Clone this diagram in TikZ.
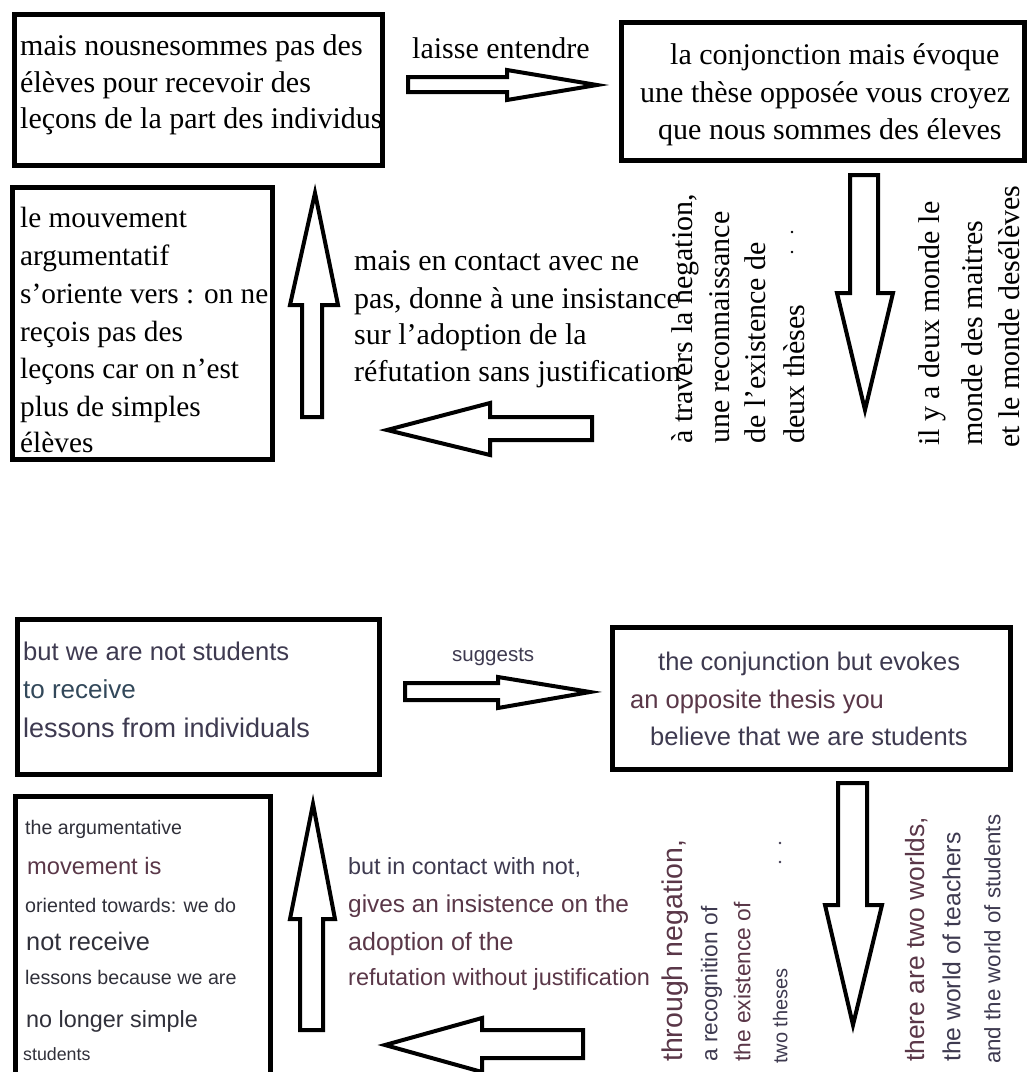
\documentclass[tikz,border=0pt]{standalone}
\usepackage{fontspec}
\setmainfont{Liberation Serif}
\newfontfamily\sansen{Liberation Sans}
\definecolor{ca}{RGB}{62,58,80}
\definecolor{cb}{RGB}{90,55,72}
\definecolor{cc}{RGB}{48,48,58}
\tikzset{
  frame/.style={draw=black, line width=5pt, inner sep=0pt, outer sep=0pt, anchor=north west},
  blockarr/.style={draw=black, line width=4pt, line join=miter, fill=white},
  fr/.style={inner sep=0pt, anchor=base west, font=\fontsize{30}{36}\selectfont},
  frc/.style={inner sep=0pt, anchor=base west, font=\fontsize{29.3}{36}\selectfont},
  frv/.style={inner sep=0pt, anchor=mid west, rotate=90, font=\fontsize{30}{36}\selectfont},
  en/.style={inner sep=0pt, anchor=base west, text=ca, font=\sansen\fontsize{#1}{#1}\selectfont},
  env/.style={inner sep=0pt, anchor=mid west, rotate=90, text=ca, font=\sansen\fontsize{#1}{#1}\selectfont},
}
\begin{document}
\begin{tikzpicture}[x=1pt,y=-1pt]
\useasboundingbox (0,0) rectangle (1031,1072);
\clip (0,0) rectangle (1031,1072);
\fill[white] (0,0) rectangle (1031,1072);

% ---------------- top (French) ----------------
\node[frame, minimum width=368pt, minimum height=151pt] (boxA) at (14.5,14.5) {};
\node[fr] (a1) at (20,55) {mais nousnesommes pas des};
\node[fr] (a2) at (20,92) {élèves pour recevoir des};
\node[fr] (a3) at (20,128) {leçons de la part des individus};

\node[fr] (lbl1) at (412,58) {laisse entendre};
\draw[blockarr] (408,77) -- (507,77) -- (507,70) -- (597,85) -- (507,100) -- (507,92) -- (408,92) -- cycle;

\node[frame, minimum width=403.5pt, minimum height=138pt] (boxB) at (621,22.5) {};
\node[fr] (b1) at (670,64) {la conjonction mais évoque};
\node[fr] (b2) at (640,102) {une thèse opposée vous croyez};
\node[fr] (b3) at (658,139) {que nous sommes des éleves};

\draw[blockarr] (850,175) -- (878,175) -- (878,293) -- (893,293) -- (865,410) -- (837,293) -- (850,293) -- cycle;

\node[frv] (v1) at (690,444) {à travers la negation,};
\node[frv] (v2) at (727,444) {une reconnaissance};
\node[frv] (v3) at (763,444) {de l'existence de};
\node[frv] (v4) at (802,444) {deux thèses};
\fill[black] (792,232) circle (1.3) (792,252) circle (1.3);
\node[frv] (v5) at (937,446) {il y a deux monde le};
\node[frv] (v6) at (980,446) {monde des maitres};
\node[frv] (v7) at (1017,448) {et le monde desélèves};

\node[frame, minimum width=260pt, minimum height=272pt] (boxC) at (12.5,187.5) {};
\node[frc] (c1) at (20,227) {le mouvement};
\node[frc] (c2) at (20,265) {argumentatif};
\node[frc] (c3) at (20,303) {s'oriente vers : on ne};
\node[frc] (c4) at (20,341) {reçois pas des};
\node[frc] (c5) at (20,378) {leçons car on n'est};
\node[frc] (c6) at (20,416) {plus de simples};
\node[frc] (c7) at (20,452) {élèves};

\draw[blockarr] (302,417) -- (302,305) -- (290,305) -- (315,193) -- (338,305) -- (322,305) -- (322,417) -- cycle;

\node[fr] (m1) at (354,270) {mais en contact avec ne};
\node[fr] (m2) at (354,308) {pas, donne à une insistance};
\node[fr] (m3) at (354,344) {sur l'adoption de la};
\node[fr] (m4) at (354,381) {réfutation sans justification};

\draw[blockarr] (592,417) -- (490,417) -- (490,403) -- (387,430) -- (490,455) -- (490,440) -- (592,440) -- cycle;

% ---------------- bottom (English) ----------------
\node[frame, minimum width=362pt, minimum height=155pt] (boxD) at (17.5,619.5) {};
\node[en=25.6] (d1) at (23,660) {but we are not students};
\node[en=26, text=ca!80!teal] (d2) at (23,698) {to receive};
\node[en=27] (d3) at (23,737) {lessons from individuals};

\node[en=20.5] (lbl2) at (452,661) {suggests};
\draw[blockarr] (405,683) -- (498,683) -- (498,677) -- (590,692) -- (498,708) -- (498,700) -- (405,700) -- cycle;

\node[frame, minimum width=398pt, minimum height=142pt] (boxE) at (612.5,627.5) {};
\node[en=25.5] (e1) at (658,670) {the conjunction but evokes};
\node[en=25.5, text=cb] (e2) at (630,708) {an opposite thesis you};
\node[en=25.5] (e3) at (650,745) {believe that we are students};

\draw[blockarr] (838,783) -- (867,783) -- (867,905) -- (882,905) -- (853,1025) -- (825,905) -- (838,905) -- cycle;

\node[env=28.5, text=cb] (w1) at (680,1062) {through negation,};
\node[env=22.7] (w2) at (715,1062) {a recognition of};
\node[env=22.8, text=cb] (w3) at (748,1062) {the existence of};
\node[env=20] (w4) at (785,1064) {two theses};
\fill[ca] (780,843) circle (1.3) (780,862) circle (1.3);
\node[env=26.4, text=cb] (w5) at (922,1062) {there are two worlds,};
\node[env=24.7] (w6) at (958,1062) {the world of teachers};
\node[env=22.3] (w7) at (998,1064) {and the world of students};

\node[frame, minimum width=255pt, minimum height=305pt] (boxF) at (15.5,796.5) {};
\node[en=19.6, text=cc] (f1) at (25,834) {the argumentative};
\node[en=23.7, text=cb] (f2) at (27,874) {movement is};
\node[en=19.7, text=cc] (f3) at (25,912) {oriented towards: we do};
\node[en=25.3, text=cc] (f4) at (26,950) {not receive};
\node[en=19.7, text=cc] (f5) at (25,984) {lessons because we are};
\node[en=23.4, text=cc] (f6) at (26,1027) {no longer simple};
\node[en=17.8, text=cc] (f7) at (23,1060) {students};

\draw[blockarr] (300,1030) -- (300,919) -- (290,919) -- (313,804) -- (335,919) -- (323,919) -- (323,1030) -- cycle;

\node[en=23.4] (n1) at (348,874) {but in contact with not,};
\node[en=24.4, text=cb] (n2) at (348,912) {gives an insistence on the};
\node[en=25, text=cb] (n3) at (348,950) {adoption of the};
\node[en=23.5, text=cb] (n4) at (348,985) {refutation without justification};

\draw[blockarr] (583,1030) -- (482,1030) -- (482,1018) -- (385,1045) -- (482,1072) -- (482,1058) -- (583,1058) -- cycle;
\end{tikzpicture}
\end{document}
